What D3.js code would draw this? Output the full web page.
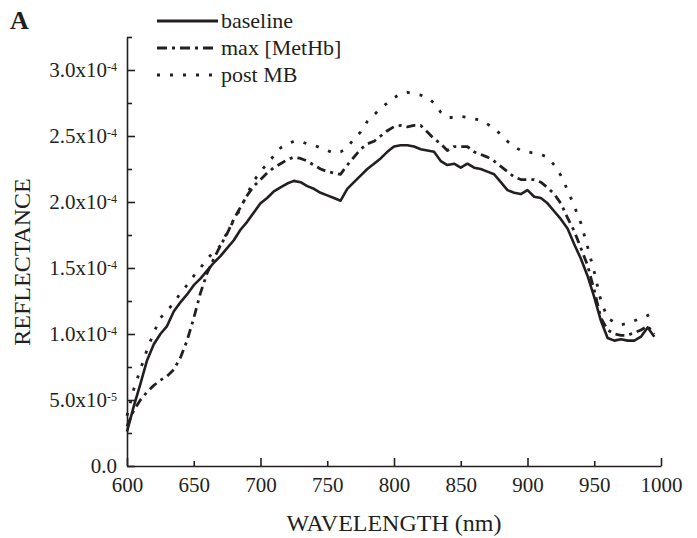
<!DOCTYPE html>
<html>
<head>
<meta charset="utf-8">
<script src="https://cdn.jsdelivr.net/npm/d3@7"></script>
<style>
  body { margin: 0; background: #fff; }
  svg { font-family: "Liberation Serif", "Times New Roman", "DejaVu Serif", serif; }
</style>
</head>
<body>
<svg id="chart" width="697" height="538"></svg>
<script>
// wavelength in nm, reflectance in units of 1e-4
var wavelength = [600,605,610,615,620,625,630,635,640,645,650,655,660,665,670,675,680,685,690,695,
  700,705,710,715,720,725,730,735,740,745,750,755,760,765,770,775,780,785,790,795,
  800,805,810,815,820,825,830,835,840,845,850,855,860,865,870,875,880,885,890,895,
  900,905,910,915,920,925,930,935,940,945,950,955,960,965,970,975,980,985,990,995];

var baseline = [0.26,0.45,0.62,0.80,0.92,1.00,1.06,1.17,1.24,1.30,1.37,1.42,1.48,1.54,1.59,1.65,1.71,1.79,1.85,1.92,
  1.99,2.03,2.08,2.11,2.14,2.16,2.15,2.12,2.10,2.07,2.05,2.03,2.01,2.10,2.15,2.20,2.25,2.29,2.33,2.38,
  2.42,2.43,2.43,2.42,2.40,2.39,2.38,2.31,2.28,2.29,2.26,2.29,2.26,2.25,2.23,2.21,2.15,2.09,2.07,2.06,
  2.09,2.04,2.03,1.99,1.93,1.87,1.80,1.68,1.57,1.44,1.28,1.10,0.97,0.95,0.96,0.95,0.95,0.98,1.05,0.98];

var maxMetHb = [0.30,0.42,0.50,0.56,0.61,0.65,0.68,0.73,0.82,0.95,1.12,1.31,1.46,1.57,1.67,1.76,1.87,1.96,2.05,2.12,
  2.17,2.22,2.26,2.29,2.32,2.34,2.33,2.31,2.28,2.25,2.23,2.22,2.21,2.28,2.34,2.40,2.44,2.46,2.50,2.54,
  2.57,2.58,2.57,2.58,2.58,2.53,2.48,2.44,2.39,2.42,2.42,2.42,2.38,2.36,2.34,2.31,2.27,2.23,2.19,2.17,
  2.17,2.17,2.15,2.11,2.06,1.99,1.88,1.78,1.65,1.52,1.33,1.12,1.03,1.00,0.99,0.99,1.01,1.03,1.06,1.00];

var postMB = [0.38,0.58,0.73,0.88,1.01,1.12,1.18,1.23,1.31,1.37,1.44,1.50,1.57,1.62,1.67,1.77,1.86,1.95,2.06,2.16,
  2.23,2.29,2.35,2.41,2.44,2.46,2.46,2.44,2.43,2.41,2.39,2.37,2.38,2.41,2.48,2.53,2.61,2.66,2.71,2.75,
  2.79,2.82,2.83,2.82,2.81,2.79,2.75,2.68,2.64,2.64,2.65,2.64,2.63,2.62,2.59,2.56,2.51,2.46,2.42,2.39,
  2.38,2.37,2.36,2.34,2.28,2.20,2.09,1.97,1.84,1.66,1.47,1.25,1.12,1.09,1.07,1.08,1.10,1.12,1.14,1.17];

var seriesNames = ["baseline", "max [MetHb]", "post MB"];
var xTicks = [600,650,700,750,800,850,900,950,1000];
var yTicks = [0,0.5e-4,1.0e-4,1.5e-4,2.0e-4,2.5e-4,3.0e-4];
var yMinorTicks = [0.25e-4,0.75e-4,1.25e-4,1.75e-4,2.25e-4,2.75e-4,3.25e-4];

var ink = "#231f20";
var dashes = [null, "9,5,3,5", "3,10"];

var svg = d3.select("#chart");

var x = d3.scaleLinear().domain([600, 1000]).range([127, 661]);
var y = d3.scaleLinear().domain([0, 3.25e-4]).range([466, 37]);

var series = [baseline, maxMetHb, postMB];

var line = d3.line()
  .x(function(d) { return x(d[0]); })
  .y(function(d) { return y(d[1] * 1e-4); });

series.forEach(function(vals, i) {
  var pts = wavelength.map(function(w, j) { return [w, vals[j]]; });
  svg.append("path")
    .datum(pts)
    .attr("d", line)
    .attr("fill", "none")
    .attr("stroke", ink)
    .attr("stroke-width", i == 0 ? 2.6 : 2.8)
    .attr("stroke-linejoin", "round")
    .attr("stroke-dasharray", dashes[i]);
});

// x axis (ticks point inward)
var xAxis = svg.append("g")
  .attr("transform", "translate(0," + y(0) + ")")
  .call(d3.axisBottom(x).tickValues(xTicks).tickSize(-8).tickSizeOuter(0).tickPadding(11)
    .tickFormat(d3.format("d")));
xAxis.selectAll(".tick line")
  .attr("y2", function(d) { return d % 100 == 0 ? -8 : -5; });

// y axis
var yAxis = svg.append("g")
  .attr("transform", "translate(" + x(600) + ",0)")
  .call(d3.axisLeft(y).tickValues(yTicks).tickSize(-8).tickSizeOuter(0).tickPadding(10));

svg.append("g")
  .attr("transform", "translate(" + x(600) + ",0)")
  .call(d3.axisLeft(y).tickValues(yMinorTicks).tickSize(-5).tickSizeOuter(0).tickFormat(""))
  .select(".domain").remove();

yAxis.selectAll(".tick text").each(function(d) {
  var t = d3.select(this).text("");
  if (d == 0) { t.text("0.0"); return; }
  var e = Math.floor(Math.log10(d) + 1e-9);
  var m = d / Math.pow(10, e);
  t.append("tspan").text(m.toFixed(1) + "x10");
  t.append("tspan").attr("dy", "-0.5em").style("font-size", "12px").text(e);
});

svg.selectAll(".domain, .tick line").attr("stroke", ink).attr("stroke-width", 1.6);
svg.selectAll(".tick text")
  .attr("fill", ink)
  .style("font-family", "Liberation Serif")
  .style("font-size", "21px");

// titles
svg.append("text")
  .attr("x", (x(600) + x(1000)) / 2)
  .attr("y", 531)
  .attr("text-anchor", "middle")
  .style("font-size", "24px")
  .attr("fill", ink)
  .text("WAVELENGTH (nm)");

svg.append("text")
  .attr("transform", "translate(30,262) rotate(-90)")
  .attr("text-anchor", "middle")
  .style("font-size", "24px")
  .attr("fill", ink)
  .text("REFLECTANCE");

svg.append("text")
  .attr("x", 10)
  .attr("y", 29)
  .style("font-size", "26px")
  .style("font-weight", "bold")
  .attr("fill", ink)
  .text("A");

// legend
var legend = svg.selectAll(".legend")
  .data(seriesNames)
  .enter()
  .append("g")
  .attr("class", "legend")
  .attr("transform", function(d, i) { return "translate(157," + (21 + i * 27) + ")"; });

legend.append("line")
  .attr("x1", 0).attr("x2", 61)
  .attr("stroke", ink)
  .attr("stroke-width", 2.8)
  .attr("stroke-dasharray", function(d, i) { return i == 1 ? "10,5,3,5" : dashes[i]; });

legend.append("text")
  .attr("x", 64)
  .attr("y", 7)
  .style("font-size", "22px")
  .attr("fill", ink)
  .text(function(d) { return d; });
</script>
</body>
</html>
